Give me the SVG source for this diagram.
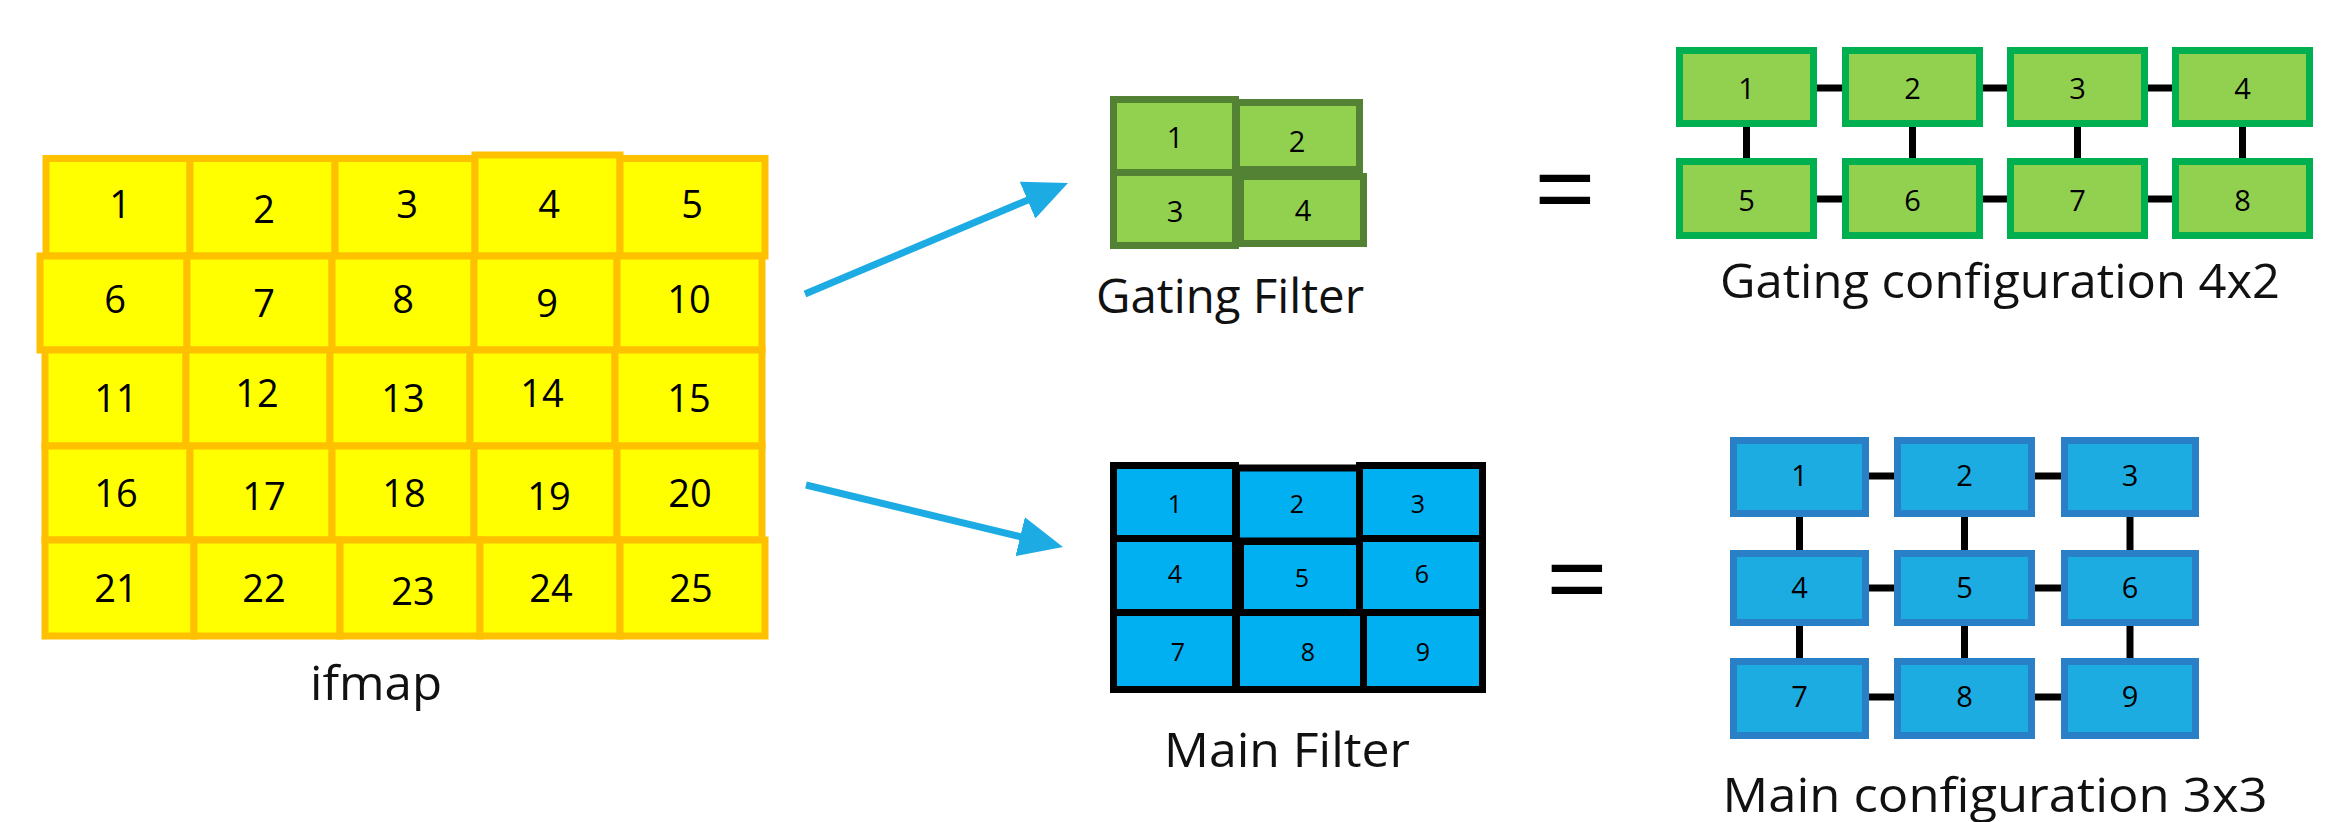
<svg xmlns="http://www.w3.org/2000/svg" width="2336" height="822" viewBox="0 0 2336 822">
<style>
text{font-family:"Open Sans","Liberation Sans",sans-serif;fill:#000;text-anchor:middle}
.y rect{fill:#FFFF00;stroke:#FFC000;stroke-width:7}
.y text{font-size:38px}
.gf rect{fill:#92D050;stroke:#548235;stroke-width:7}
.gf text{font-size:29px}
.mf rect{fill:#00B0F0;stroke:#000;stroke-width:7}
.mf text{font-size:25px}
.gc rect{fill:#92D050;stroke:#00B050;stroke-width:7}
.gc text{font-size:29px}
.mc rect{fill:#1DACE2;stroke:#2A80C6;stroke-width:7}
.mc text{font-size:29px}
.lbl{font-size:48px;fill:#111}
.eq{font-size:110px}
.link{stroke:#000;stroke-width:7;fill:none}
.arrow{stroke:#1CACE3;stroke-width:7;fill:none;marker-end:url(#head)}
</style>
<defs>
<marker id="head" viewBox="0 0 44 40" markerWidth="44" markerHeight="40" markerUnits="userSpaceOnUse" refX="14" refY="20" orient="auto">
<path d="M0,0 L44,20 L0,40 z" fill="#1CACE3"/>
</marker>
</defs>
<rect width="2336" height="822" fill="#fff"/>

<g id="ifmap" class="y">
<g id="if1"><rect x="46" y="158.5" width="144" height="97.5"/><text x="120" y="218">1</text></g>
<g id="if2"><rect x="190" y="158.5" width="145" height="97.5"/><text x="264" y="223">2</text></g>
<g id="if3"><rect x="335" y="158.5" width="140" height="97.5"/><text x="407" y="218">3</text></g>
<g id="if4"><rect x="475" y="155" width="145" height="101"/><text x="549" y="218">4</text></g>
<g id="if5"><rect x="620" y="158.5" width="145" height="97.5"/><text x="692" y="218">5</text></g>
<g id="if6"><rect x="40" y="256" width="147" height="94"/><text x="115" y="313">6</text></g>
<g id="if7"><rect x="187" y="256" width="145" height="94"/><text x="264" y="317">7</text></g>
<g id="if8"><rect x="332" y="256" width="142" height="94"/><text x="403" y="313">8</text></g>
<g id="if9"><rect x="474" y="256" width="143" height="94"/><text x="547" y="317">9</text></g>
<g id="if10"><rect x="617" y="256" width="145" height="94"/><text x="689" y="313">10</text></g>
<g id="if11"><rect x="45" y="350" width="141" height="96"/><text x="116" y="412">11</text></g>
<g id="if12"><rect x="186" y="350" width="144" height="96"/><text x="257" y="407">12</text></g>
<g id="if13"><rect x="330" y="350" width="140" height="96"/><text x="403" y="412">13</text></g>
<g id="if14"><rect x="470" y="350" width="145" height="96"/><text x="542" y="407">14</text></g>
<g id="if15"><rect x="615" y="350" width="147" height="96"/><text x="689" y="412">15</text></g>
<g id="if16"><rect x="45" y="446" width="145" height="94"/><text x="116" y="507">16</text></g>
<g id="if17"><rect x="190" y="446" width="142" height="94"/><text x="264" y="510">17</text></g>
<g id="if18"><rect x="332" y="446" width="142" height="94"/><text x="404" y="507">18</text></g>
<g id="if19"><rect x="474" y="446" width="143" height="94"/><text x="549" y="510">19</text></g>
<g id="if20"><rect x="617" y="446" width="145" height="94"/><text x="690" y="507">20</text></g>
<g id="if21"><rect x="45" y="540" width="149" height="96"/><text x="116" y="602">21</text></g>
<g id="if22"><rect x="194" y="540" width="146" height="96"/><text x="264" y="602">22</text></g>
<g id="if23"><rect x="340" y="540" width="140" height="96"/><text x="413" y="605">23</text></g>
<g id="if24"><rect x="480" y="540" width="140" height="96"/><text x="551" y="602">24</text></g>
<g id="if25"><rect x="620" y="540" width="145" height="96"/><text x="691" y="602">25</text></g>
</g>
<text id="ifmap-label" class="lbl" x="376" y="700" textLength="132" lengthAdjust="spacingAndGlyphs">ifmap</text>

<g id="gating-filter" class="gf">
<g id="gf1"><rect x="1113.5" y="99.5" width="122" height="73"/><text x="1175" y="148">1</text></g>
<g id="gf2"><rect x="1236.5" y="102.5" width="123" height="67"/><text x="1297" y="152">2</text></g>
<g id="gf3"><rect x="1113.5" y="172.5" width="122" height="73"/><text x="1175" y="222">3</text></g>
<g id="gf4"><rect x="1240.5" y="176.5" width="123" height="67"/><text x="1303" y="221">4</text></g>
</g>
<text id="gating-filter-label" class="lbl" x="1230" y="313" textLength="268" lengthAdjust="spacingAndGlyphs">Gating Filter</text>

<g id="main-filter" class="mf">
<g id="mf1"><rect x="1113.5" y="465.5" width="122" height="73"/><text x="1175" y="513">1</text></g>
<g id="mf2"><rect x="1236.5" y="468" width="123" height="73"/><text x="1297" y="513">2</text></g>
<g id="mf3"><rect x="1359.5" y="465.5" width="123" height="73"/><text x="1418" y="513">3</text></g>
<g id="mf4"><rect x="1113.5" y="538.5" width="122" height="74"/><text x="1175" y="583">4</text></g>
<g id="mf5"><rect x="1240.5" y="541.5" width="119" height="71"/><text x="1302" y="587">5</text></g>
<g id="mf6"><rect x="1359.5" y="538.5" width="123" height="74"/><text x="1422" y="583">6</text></g>
<g id="mf7"><rect x="1113.5" y="612.5" width="122" height="77"/><text x="1178" y="661">7</text></g>
<g id="mf8"><rect x="1236.5" y="612.5" width="127" height="77"/><text x="1308" y="661">8</text></g>
<g id="mf9"><rect x="1363.5" y="612.5" width="119" height="77"/><text x="1423" y="661">9</text></g>
</g>
<text id="main-filter-label" class="lbl" x="1287" y="767" textLength="246" lengthAdjust="spacingAndGlyphs">Main Filter</text>

<text id="eq1" class="eq" x="1565" y="228">=</text>
<text id="eq2" class="eq" x="1577" y="618">=</text>

<g id="connectors">
<path class="arrow" d="M805,294 L1040.4,194.7"/>
<path class="arrow" d="M806,485 L1033.8,540"/>
<path class="link" d="M1817,88 H1842 M1982,88 H2007 M2147,88 H2172 M1817,199 H1842 M1982,199 H2007 M2147,199 H2172 M1746.5,127 V158 M1912.5,127 V158 M2077.5,127 V158 M2242.5,127 V158"/>
<path class="link" d="M1869,476 H1894 M2035,476 H2061 M1869,588 H1894 M2035,588 H2061 M1869,697 H1894 M2035,697 H2061 M1799.5,517 V550 M1964.5,517 V550 M2130,517 V550 M1799.5,626 V658 M1964.5,626 V658 M2130,626 V658"/>
</g>

<g id="gating-config" class="gc">
<g id="gc1"><rect x="1679.5" y="50.5" width="134" height="73"/><text x="1746.5" y="99">1</text></g>
<g id="gc2"><rect x="1845.5" y="50.5" width="134" height="73"/><text x="1912.5" y="99">2</text></g>
<g id="gc3"><rect x="2010.5" y="50.5" width="134" height="73"/><text x="2077.5" y="99">3</text></g>
<g id="gc4"><rect x="2175.5" y="50.5" width="134" height="73"/><text x="2242.5" y="99">4</text></g>
<g id="gc5"><rect x="1679.5" y="161.5" width="134" height="74"/><text x="1746.5" y="211">5</text></g>
<g id="gc6"><rect x="1845.5" y="161.5" width="134" height="74"/><text x="1912.5" y="211">6</text></g>
<g id="gc7"><rect x="2010.5" y="161.5" width="134" height="74"/><text x="2077.5" y="211">7</text></g>
<g id="gc8"><rect x="2175.5" y="161.5" width="134" height="74"/><text x="2242.5" y="211">8</text></g>
</g>
<text id="gating-config-label" class="lbl" x="2000" y="298" textLength="560" lengthAdjust="spacingAndGlyphs">Gating configuration 4x2</text>

<g id="main-config" class="mc">
<g id="mc1"><rect x="1733.5" y="440.5" width="132" height="73"/><text x="1799.5" y="486">1</text></g>
<g id="mc2"><rect x="1897.5" y="440.5" width="134" height="73"/><text x="1964.5" y="486">2</text></g>
<g id="mc3"><rect x="2064.5" y="440.5" width="131" height="73"/><text x="2130" y="486">3</text></g>
<g id="mc4"><rect x="1733.5" y="553.5" width="132" height="69"/><text x="1799.5" y="598">4</text></g>
<g id="mc5"><rect x="1897.5" y="553.5" width="134" height="69"/><text x="1964.5" y="598">5</text></g>
<g id="mc6"><rect x="2064.5" y="553.5" width="131" height="69"/><text x="2130" y="598">6</text></g>
<g id="mc7"><rect x="1733.5" y="661.5" width="132" height="74"/><text x="1799.5" y="707">7</text></g>
<g id="mc8"><rect x="1897.5" y="661.5" width="134" height="74"/><text x="1964.5" y="707">8</text></g>
<g id="mc9"><rect x="2064.5" y="661.5" width="131" height="74"/><text x="2130" y="707">9</text></g>
</g>
<text id="main-config-label" class="lbl" x="1995" y="812" textLength="545" lengthAdjust="spacingAndGlyphs">Main configuration 3x3</text>
</svg>
